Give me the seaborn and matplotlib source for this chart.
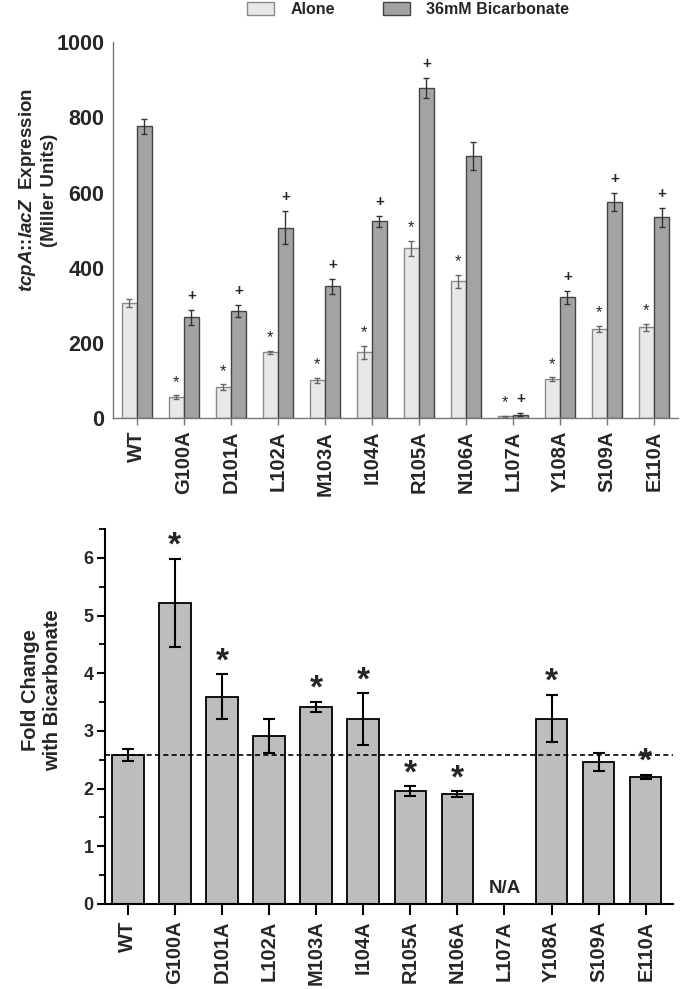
import numpy as np
import pandas as pd
import matplotlib
matplotlib.use('Agg')
import matplotlib.pyplot as plt
from matplotlib.patches import Patch
import seaborn as sns

# datos
mutants = ['WT', 'G100A', 'D101A', 'L102A', 'M103A', 'I104A', 'R105A',
           'N106A', 'L107A', 'Y108A', 'S109A', 'E110A']
alone = [306, 56, 83, 175, 101, 175, 452, 364, 5, 104, 237, 242]
alone_err = [10, 5, 7, 5, 6, 18, 20, 17, 2, 5, 8, 10]
bicarb = [776, 268, 285, 507, 351, 524, 877, 697, 10, 322, 575, 534]
bicarb_err = [20, 21, 17, 44, 20, 15, 27, 38, 4, 17, 25, 26]
alone_star = [False, True, True, True, True, True, True, True, True, True, True, True]
bicarb_plus = [False, True, True, True, True, True, True, False, True, True, True, True]

fold = [2.58, 5.22, 3.59, 2.91, 3.42, 3.20, 1.96, 1.90, np.nan, 3.21, 2.46, 2.20]
fold_err = [0.10, 0.76, 0.39, 0.30, 0.09, 0.45, 0.08, 0.05, np.nan, 0.41, 0.16, 0.04]
fold_star = [False, True, True, False, True, True, True, True, False, True, False, True]

sns.set_style('white')
plt.rcParams['font.family'] = ['Liberation Sans', 'DejaVu Sans']
plt.rcParams['font.weight'] = 'bold'
plt.rcParams['mathtext.fontset'] = 'custom'
plt.rcParams['mathtext.it'] = 'Liberation Sans:italic:bold'
plt.rcParams['mathtext.rm'] = 'Liberation Sans:bold'

fig = plt.figure(figsize=(6.8, 9.89), dpi=100)

# ---- panel superior ----
ax1 = fig.add_axes([0.166, 0.577, 0.831, 0.3805])
df = pd.DataFrame({
    'mutant': mutants * 2,
    'value': alone + bicarb,
    'cond': ['Alone'] * len(mutants) + ['36mM Bicarbonate'] * len(mutants),
})
sns.barplot(data=df, x='mutant', y='value', hue='cond', order=mutants,
            palette=['#e8e8e8', '#a3a3a3'], errorbar=None, width=0.64,
            ax=ax1, legend=False)
edges = ['#8a8a8a', '#444444']
for cont, ec in zip(ax1.containers, edges):
    for p in cont:
        p.set_edgecolor(ec)
        p.set_linewidth(1.0)

x_alone = [p.get_x() + p.get_width() / 2 for p in ax1.containers[0]]
x_bic = [p.get_x() + p.get_width() / 2 for p in ax1.containers[1]]
ax1.errorbar(x_alone, alone, yerr=alone_err, fmt='none', ecolor='#666666',
             elinewidth=1, capsize=2.5, capthick=1)
ax1.errorbar(x_bic, bicarb, yerr=bicarb_err, fmt='none', ecolor='#333333',
             elinewidth=1, capsize=2.5, capthick=1)
for i in range(len(mutants)):
    if alone_star[i]:
        ax1.annotate('*', (x_alone[i], alone[i] + alone_err[i]), xytext=(0, 4),
                     textcoords='offset points', ha='center', va='bottom',
                     fontsize=12, fontweight='normal')
    if bicarb_plus[i]:
        ax1.annotate('+', (x_bic[i], bicarb[i] + bicarb_err[i]), xytext=(0, 5),
                     textcoords='offset points', ha='center', va='bottom',
                     fontsize=11, fontweight='bold')

ax1.set_xlim(-0.51, 11.51)
ax1.set_ylim(0, 1000)
ax1.set_yticks([0, 200, 400, 600, 800, 1000])
ax1.tick_params(axis='y', labelsize=15.5, length=4, color='#777777', width=1, pad=2)
ax1.tick_params(axis='x', labelsize=14.5, length=5, color='#777777', width=1,
                rotation=90, pad=4, bottom=True)
for lab in ax1.get_xticklabels() + ax1.get_yticklabels():
    lab.set_fontweight('bold')
sns.despine(ax=ax1)
for s in ['left', 'bottom']:
    ax1.spines[s].set_color('#777777')
    ax1.spines[s].set_linewidth(1)
ax1.set_xlabel('')
ax1.set_ylabel(r'$\it{tcpA}$::$\it{lacZ}$  Expression' + '\n(Miller Units)',
               fontsize=13.5, fontweight='bold')
ax1.yaxis.set_label_coords(-0.097, 0.606)

handles = [Patch(facecolor='#e8e8e8', edgecolor='#8a8a8a', label='Alone'),
           Patch(facecolor='#a3a3a3', edgecolor='#444444', label='36mM Bicarbonate')]
fig.legend(handles=handles, loc='upper center', bbox_to_anchor=(0.60, 1.013),
           ncol=2, frameon=False, handlelength=1.7,
           handleheight=0.9, columnspacing=3.0, handletextpad=1.0,
           prop={'weight': 'bold', 'size': 11.5})

# ---- panel inferior ----
ax2 = fig.add_axes([0.154, 0.086, 0.835, 0.379])
sns.barplot(x=mutants, y=fold, order=mutants, color='#bdbdbd', errorbar=None,
            width=0.67, edgecolor='black', linewidth=1.3, saturation=1, ax=ax2)
ax2.errorbar(np.arange(len(mutants)), fold, yerr=fold_err, fmt='none',
             ecolor='black', elinewidth=1.5, capsize=4, capthick=1.5)
ax2.axhline(fold[0], ls='--', color='black', lw=1.2, dashes=(3, 2))
for i in range(len(mutants)):
    if fold_star[i]:
        ax2.annotate('*', (i, fold[i] + fold_err[i]), xytext=(0, -2),
                     textcoords='offset points', ha='center', va='bottom',
                     fontsize=24, fontweight='bold')
ax2.text(8, 0.12, 'N/A', ha='center', va='bottom', fontsize=13.5, fontweight='bold')

ax2.set_xlim(-0.49, 11.57)
ax2.set_ylim(0, 6.5)
ax2.set_yticks([0, 1, 2, 3, 4, 5, 6])
ax2.set_yticks(np.arange(0.5, 6.6, 1.0), minor=True)
ax2.tick_params(axis='y', which='major', labelsize=13, length=6, width=1.5,
                color='black', left=True, pad=2)
ax2.tick_params(axis='y', which='minor', length=4, width=1.3, color='black', left=True)
ax2.tick_params(axis='x', labelsize=14.5, length=8, width=1.5, color='black',
                rotation=90, bottom=True, pad=4)
for lab in ax2.get_xticklabels() + ax2.get_yticklabels():
    lab.set_fontweight('bold')
sns.despine(ax=ax2)
for s in ['left', 'bottom']:
    ax2.spines[s].set_color('black')
    ax2.spines[s].set_linewidth(1.5)
ax2.set_xlabel('')
ax2.set_ylabel('Fold Change\nwith Bicarbonate', fontsize=14.5, fontweight='bold')
ax2.yaxis.set_label_coords(-0.075, 0.571)

fig.savefig('out.png', dpi=100)
